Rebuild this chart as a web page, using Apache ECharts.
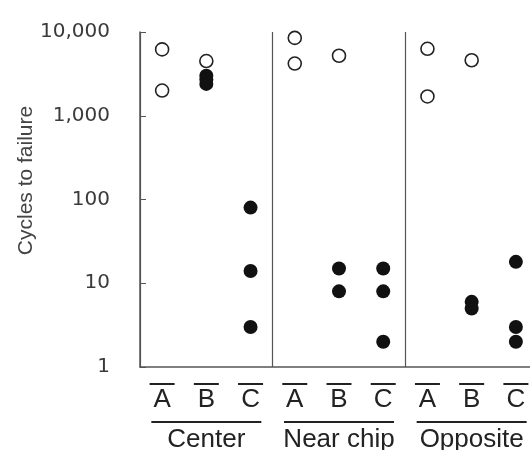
<!DOCTYPE html>
<html>
<head>
<meta charset="utf-8">
<script src="https://cdn.jsdelivr.net/npm/echarts@6/dist/echarts.min.js"></script>
<style>
  html, body { margin: 0; padding: 0; background: #fff; }
  #chart { width: 530px; height: 450px; }
</style>
</head>
<body>
<div id="chart"></div>
<script>
// locations and sites
const groups = ['Center', 'Near chip', 'Opposite']
const sites = ['A', 'B', 'C']
const categories = groups.flatMap(g => sites.map(s => g + ' ' + s))

// cycles to failure, one list per category
const openValues = [
    [6200, 2000], [4500], [],
    [8500, 4200], [5200], [],
    [6300, 1700], [4600], []
]
const filledValues = [
    [], [3000, 2700, 2400], [80, 14, 3],
    [], [15, 8], [15, 8, 2],
    [], [6, 5], [18, 3, 2]
]
const yTicks = [1, 10, 100, 1000, 10000]

function toPoints(lists) {
    const pts = []
    lists.forEach((vals, i) => {
        vals.forEach(v => pts.push([categories[i], v]))
    })
    return pts
}

const chart = echarts.init(document.getElementById('chart'))
const option = {
    backgroundColor: '#fff',
    animation: false,
    // plot runs a little past the right edge, like the cropped original
    grid: { left: 140, width: 398, top: 32, bottom: 83, containLabel: false, outerBoundsMode: 'none' },
    xAxis: [
        {
            type: 'category',
            data: categories,
            boundaryGap: true,
            axisLine: { lineStyle: { color: '#555', width: 1.5 } },
            axisTick: { show: false },
            splitLine: { show: false },
            axisLabel: {
                interval: 0,
                margin: 16,
                formatter: v => '{o| }\n{l|' + v.slice(-1) + '}',
                rich: {
                    o: { width: 25, height: 2, lineHeight: 2, fontSize: 2, backgroundColor: '#222', align: 'center' },
                    l: { fontSize: 26, lineHeight: 30, color: '#222', fontFamily: 'Liberation Sans', align: 'center' }
                }
            }
        },
        {
            type: 'category',
            data: groups,
            position: 'bottom',
            boundaryGap: true,
            axisLine: { show: false },
            axisTick: { show: false },
            splitLine: { show: true, lineStyle: { color: '#555', width: 1.2 } },
            axisLabel: {
                interval: 0,
                margin: 54,
                formatter: v => '{u| }\n{t|' + v + '}',
                rich: {
                    u: { width: 110, height: 2, lineHeight: 2, fontSize: 2, backgroundColor: '#222', align: 'center' },
                    t: { fontSize: 26, lineHeight: 34, color: '#222', fontFamily: 'Liberation Sans', align: 'center' }
                }
            }
        }
    ],
    yAxis: {
        type: 'log',
        logBase: 10,
        min: yTicks[0],
        max: yTicks[yTicks.length - 1],
        name: 'Cycles to failure',
        nameLocation: 'middle',
        nameRotate: 90,
        nameGap: 103,
        nameMoveOverlap: false,
        nameTextStyle: { fontSize: 21, color: '#444', fontFamily: 'Liberation Sans', padding: [0, 0, 0, 38] },
        axisLine: { show: true, lineStyle: { color: '#555', width: 1.5 } },
        axisTick: { show: true, inside: true, length: 6, lineStyle: { color: '#555' } },
        splitLine: { show: false },
        axisLabel: {
            margin: 30,
            fontSize: 20,
            color: '#3a3a3a',
            fontFamily: 'DejaVu Sans',
            formatter: v => Number(v).toLocaleString('en-US')
        }
    },
    series: [
        {
            name: 'open',
            type: 'scatter',
            xAxisIndex: 0,
            symbol: 'circle',
            symbolSize: 13,
            itemStyle: { color: '#fff', borderColor: '#222', borderWidth: 1.6, opacity: 1 },
            data: toPoints(openValues)
        },
        {
            name: 'filled',
            type: 'scatter',
            xAxisIndex: 0,
            symbol: 'circle',
            symbolSize: 14,
            itemStyle: { color: '#111', opacity: 1 },
            data: toPoints(filledValues)
        }
    ]
}
chart.setOption(option)
</script>
</body>
</html>
